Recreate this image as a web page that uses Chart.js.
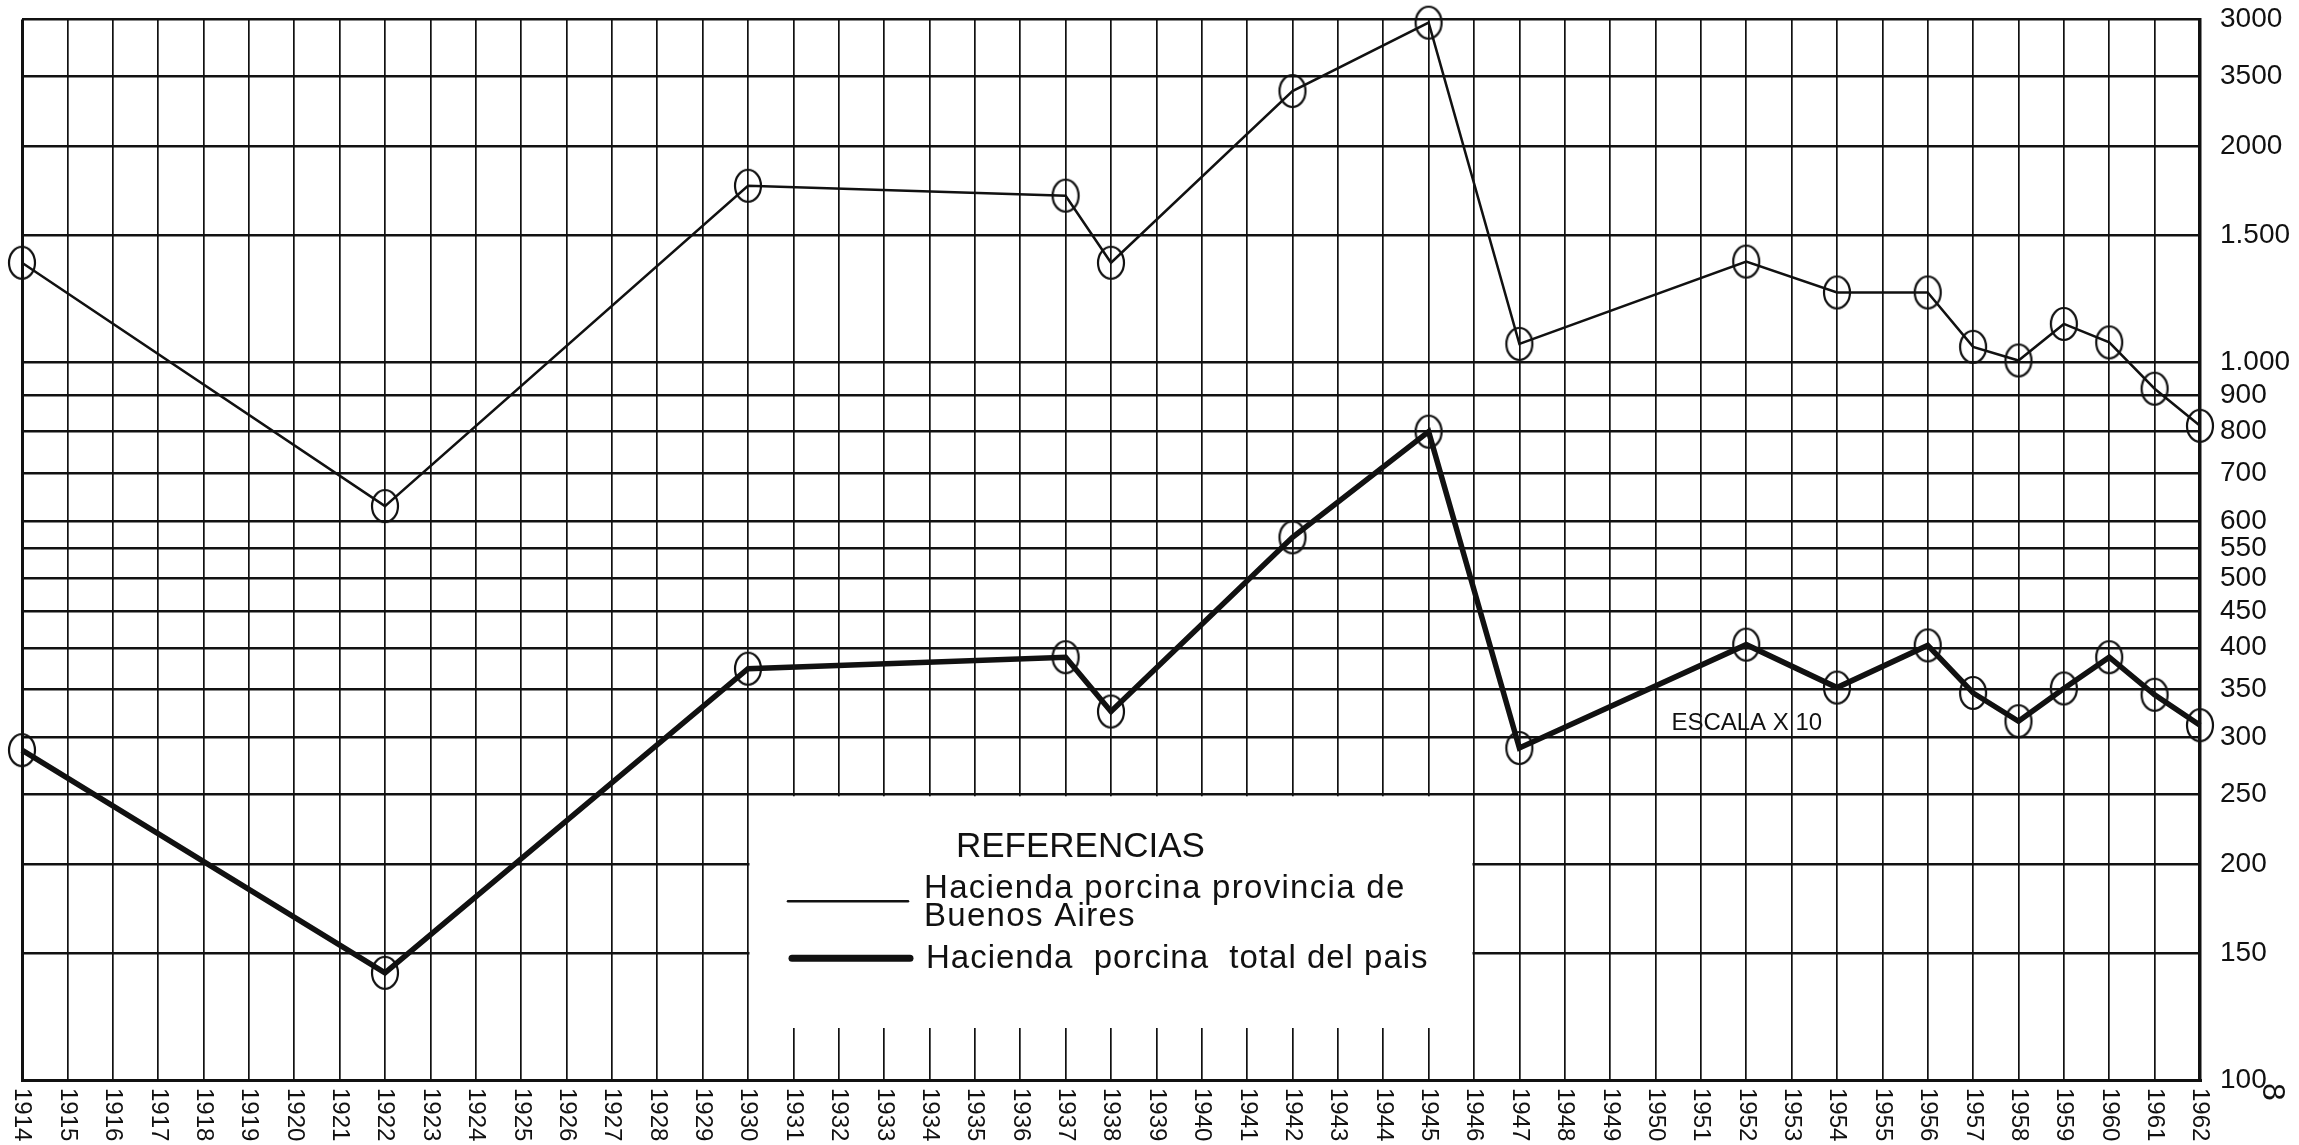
<!DOCTYPE html>
<html lang="es">
<head>
<meta charset="utf-8">
<title>Hacienda porcina 1914-1962</title>
<script src="https://cdn.jsdelivr.net/npm/chart.js@4.4.1/dist/chart.umd.min.js"></script>
<style>
  html, body { margin: 0; padding: 0; background: #fff; }
  canvas { display: block; }
</style>
</head>
<body>
<canvas id="chart" width="2299" height="1145"></canvas>
<script>
// años del eje horizontal (una línea vertical por año)
const YEARS = [1914, 1915, 1916, 1917, 1918, 1919, 1920, 1921, 1922, 1923, 1924, 1925, 1926,
  1927, 1928, 1929, 1930, 1931, 1932, 1933, 1934, 1935, 1936, 1937, 1938, 1939, 1940, 1941,
  1942, 1943, 1944, 1945, 1946, 1947, 1948, 1949, 1950, 1951, 1952, 1953, 1954, 1955, 1956,
  1957, 1958, 1959, 1960, 1961, 1962];

// años con dato
const POINT_YEARS = [1914, 1922, 1930, 1937, 1938, 1942, 1945, 1947, 1952, 1954, 1956, 1957, 1958, 1959, 1960, 1961, 1962];
// provincia de Buenos Aires (miles de cabezas)
const BUENOS_AIRES = [1375, 630, 1760, 1705, 1375, 2385, 2970, 1060, 1380, 1250, 1250, 1050, 1005, 1130, 1065, 918, 815];
const TOTAL_PAIS = [288, 141, 374, 388, 326, 570, 800, 290, 404, 352, 403, 346, 316, 351, 388, 344, 312];

// escala logaritmica de la derecha, tal como esta rotulada
const Y_TICKS = [100, 150, 200, 250, 300, 350, 400, 450, 500, 550, 600, 700, 800, 900, 1000, 1500, 2000, 2500, 3000];
const Y_LABELS = ['100', '150', '200', '250', '300', '350', '400', '450', '500', '550', '600', '700', '800', '900', '1.000', '1.500', '2000', '3500', '3000'];

const LEGEND_TITLE = 'REFERENCIAS';
const LEGEND_BA = ['Hacienda porcina provincia de', 'Buenos Aires'];
const LEGEND_TOTAL = 'Hacienda  porcina  total del pais';
const SCALE_NOTE = 'ESCALA X 10';

const FONT = '"Liberation Sans", Arial, sans-serif';
const INK = '#111';

// circulo dibujado a mano: algo mas alto que ancho
function ringMark(w, h, lw){
  const c = document.createElement('canvas');
  c.width = w + lw * 2 + 2; c.height = h + lw * 2 + 2;
  const g = c.getContext('2d');
  g.strokeStyle = INK; g.lineWidth = lw;
  g.beginPath(); g.ellipse(c.width / 2, c.height / 2, w / 2, h / 2, 0, 0, Math.PI * 2); g.stroke();
  return c;
}
const RING = ringMark(26, 32, 2.2);

// caja de referencias, nota de escala y rotulos de años
const decor = {
  id: 'decor',
  beforeDatasetsDraw(chart){
    const { ctx, chartArea, scales: { x, y } } = chart;
    const left = x.getPixelForValue(1930), right = x.getPixelForValue(1946);
    const top = y.getPixelForValue(250), bottom = chartArea.bottom - 52;
    ctx.save();
    ctx.fillStyle = '#fff';
    ctx.fillRect(left + 1.5, top + 2, right - left - 3, bottom - top - 2);

    ctx.fillStyle = INK; ctx.strokeStyle = INK;
    ctx.textAlign = 'left'; ctx.textBaseline = 'alphabetic';
    ctx.font = '35px ' + FONT;
    ctx.fillText(LEGEND_TITLE, left + 208, top + 63);

    ctx.font = '33px ' + FONT;
    ctx.letterSpacing = '1.3px';
    ctx.fillText(LEGEND_BA[0], left + 176, top + 104);
    ctx.fillText(LEGEND_BA[1], left + 176, top + 132);
    ctx.letterSpacing = '1px';
    ctx.fillText(LEGEND_TOTAL, left + 178, top + 174);
    ctx.letterSpacing = '0px';

    ctx.lineCap = 'round';
    ctx.lineWidth = 2.5;
    ctx.beginPath(); ctx.moveTo(left + 40, top + 107); ctx.lineTo(left + 160, top + 107); ctx.stroke();
    ctx.lineWidth = 7;
    ctx.beginPath(); ctx.moveTo(left + 44, top + 164); ctx.lineTo(left + 162, top + 164); ctx.stroke();

    ctx.font = '24px ' + FONT;
    ctx.fillText(SCALE_NOTE, x.getPixelForValue(1950.35), y.getPixelForValue(300) - 7);
    ctx.restore();
  },
  afterDraw(chart){
    const { ctx, chartArea, scales: { x } } = chart;
    ctx.save();
    ctx.fillStyle = INK;
    ctx.font = '24px ' + FONT;
    ctx.textAlign = 'left'; ctx.textBaseline = 'middle';
    YEARS.forEach(yr => {
      ctx.save();
      ctx.translate(x.getPixelForValue(yr), chartArea.bottom + 8);
      ctx.rotate(Math.PI / 2);
      ctx.fillText(String(yr), 0, 0);
      ctx.restore();
    });
    // numero de pagina
    ctx.font = '32px ' + FONT;
    ctx.textAlign = 'center';
    ctx.translate(chartArea.right + 72, chartArea.bottom + 12);
    ctx.rotate(Math.PI / 2);
    ctx.fillText('8', 0, 0);
    ctx.restore();
  }
};

Chart.defaults.font.family = FONT;
Chart.defaults.color = INK;

new Chart(document.getElementById('chart'), {
  type: 'line',
  data: {
    datasets: [
      {
        label: 'Hacienda porcina provincia de Buenos Aires',
        data: POINT_YEARS.map((yr, i) => ({ x: yr, y: BUENOS_AIRES[i] })),
        borderColor: INK,
        borderWidth: 2.5,
        pointStyle: RING,
        pointRadius: 14,
        tension: 0,
        clip: false
      },
      {
        label: 'Hacienda porcina total del pais',
        data: POINT_YEARS.map((yr, i) => ({ x: yr, y: TOTAL_PAIS[i] })),
        borderColor: INK,
        borderWidth: 5.5,
        pointStyle: RING,
        pointRadius: 14,
        tension: 0,
        clip: false
      }
    ]
  },
  options: {
    responsive: false,
    animation: false,
    devicePixelRatio: 1,
    layout: { padding: { left: 22, top: 19, right: 0, bottom: 0 } },
    plugins: { legend: { display: false }, tooltip: { enabled: false } },
    scales: {
      x: {
        type: 'linear',
        min: 1914,
        max: 1962,
        afterBuildTicks: s => { s.ticks = YEARS.map(v => ({ value: v })); },
        afterFit: s => { s.height = 65; },
        ticks: { display: false },
        grid: {
          color: INK,
          lineWidth: c => (c.tick && c.tick.value === 1914) ? 3 : 1.7,
          drawTicks: false
        },
        border: { display: true, color: INK, width: 3 }
      },
      y: {
        type: 'logarithmic',
        position: 'right',
        min: 100,
        max: 3000,
        afterBuildTicks: s => { s.ticks = Y_TICKS.map(v => ({ value: v })); },
        afterFit: s => { s.width = 99; s.paddingTop = 0; s.paddingBottom = 0; },
        ticks: {
          autoSkip: false,
          padding: 20,
          font: { size: 28 },
          color: INK,
          callback: v => Y_LABELS[Y_TICKS.indexOf(v)]
        },
        grid: { color: INK, lineWidth: 2.5, drawTicks: false },
        border: { display: true, color: INK, width: 3.5 }
      }
    }
  },
  plugins: [decor]
});
</script>
</body>
</html>
